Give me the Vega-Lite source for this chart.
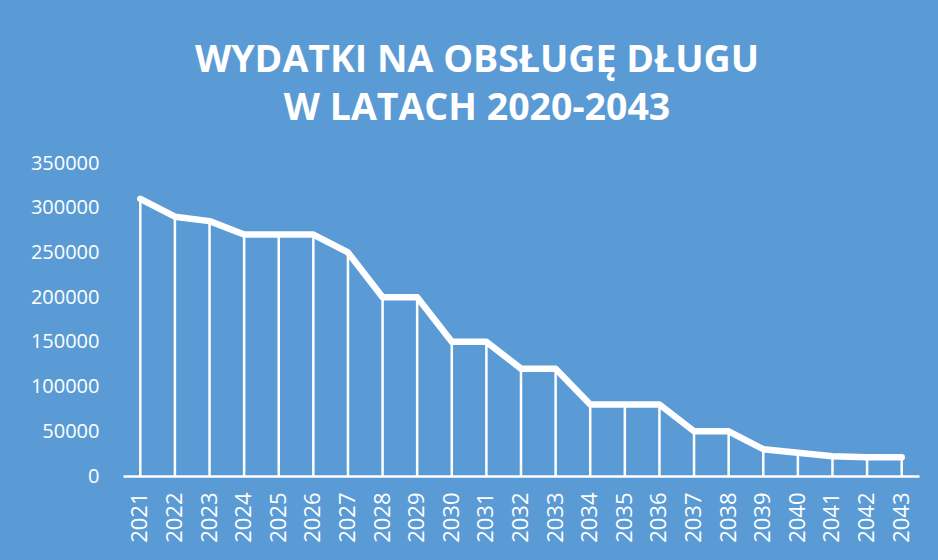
{
  "$schema": "https://vega.github.io/schema/vega-lite/v6.json",
  "autosize": "none",
  "width": 796,
  "height": 313,
  "padding": {"left": 123, "top": 163, "right": 19, "bottom": 84},
  "background": "#5B9BD5",
  "title": {
    "text": ["WYDATKI NA OBSŁUGĘ DŁUGU", "W LATACH 2020-2043"],
    "font": "Open Sans",
    "fontSize": 37.5,
    "fontWeight": "bold",
    "color": "white",
    "lineHeight": 48,
    "anchor": "middle",
    "dx": -44,
    "offset": 26
  },
  "data": {
    "values": [
      {"rok": "2021", "wydatki": 310000},
      {"rok": "2022", "wydatki": 290000},
      {"rok": "2023", "wydatki": 285000},
      {"rok": "2024", "wydatki": 270000},
      {"rok": "2025", "wydatki": 270000},
      {"rok": "2026", "wydatki": 270000},
      {"rok": "2027", "wydatki": 250000},
      {"rok": "2028", "wydatki": 200000},
      {"rok": "2029", "wydatki": 200000},
      {"rok": "2030", "wydatki": 150000},
      {"rok": "2031", "wydatki": 150000},
      {"rok": "2032", "wydatki": 120000},
      {"rok": "2033", "wydatki": 120000},
      {"rok": "2034", "wydatki": 80000},
      {"rok": "2035", "wydatki": 80000},
      {"rok": "2036", "wydatki": 80000},
      {"rok": "2037", "wydatki": 50000},
      {"rok": "2038", "wydatki": 50000},
      {"rok": "2039", "wydatki": 30000},
      {"rok": "2040", "wydatki": 26000},
      {"rok": "2041", "wydatki": 22000},
      {"rok": "2042", "wydatki": 21000},
      {"rok": "2043", "wydatki": 21000}
    ]
  },
  "config": {
    "view": {"stroke": null},
    "axis": {"labelFont": "Open Sans", "labelColor": "white", "grid": false, "ticks": false, "title": null}
  },
  "encoding": {
    "x": {
      "field": "rok",
      "type": "ordinal",
      "scale": {"type": "band", "paddingInner": 0, "paddingOuter": 0},
      "axis": {
        "labelAngle": -90,
        "labelAlign": "right",
        "labelBaseline": "middle",
        "labelFontSize": 22,
        "labelPadding": 16,
        "domainColor": "white",
        "domainWidth": 2.5
      }
    },
    "y": {
      "field": "wydatki",
      "type": "quantitative",
      "scale": {"domain": [0, 350000], "nice": false},
      "axis": {
        "values": [0, 50000, 100000, 150000, 200000, 250000, 300000, 350000],
        "format": "d",
        "domain": false,
        "labelFontSize": 20,
        "labelPadding": 24
      }
    }
  },
  "layer": [
    {
      "mark": {"type": "rule", "color": "white", "strokeWidth": 2.5},
      "encoding": {"y2": {"datum": 0}}
    },
    {
      "mark": {"type": "line", "color": "white", "strokeWidth": 6.5, "strokeCap": "round", "strokeJoin": "round"}
    }
  ]
}
